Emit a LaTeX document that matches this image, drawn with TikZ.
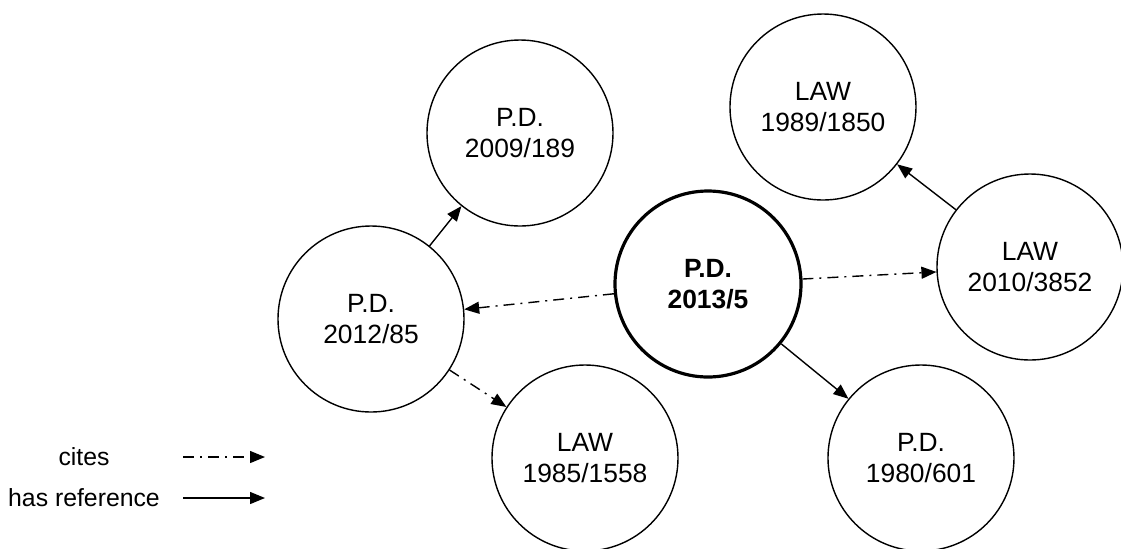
\documentclass[tikz,border=0pt]{standalone}
\usepackage{fontspec}
\setmainfont{Liberation Sans}
\usetikzlibrary{arrows.meta}

\tikzset{
  doc/.style={circle, draw, line width=0.7pt, minimum size=93pt, inner sep=0pt,
    align=center, font=\fontsize{13.2}{15.5}\selectfont},
  maindoc/.style={doc, line width=1.6pt, font=\fontsize{13.2}{15.5}\selectfont\bfseries},
  hasref/.style={line width=0.7pt, -{Triangle[length=7.5pt,width=6pt]}},
  cites/.style={hasref, dash pattern=on 5.5pt off 3pt on 1pt off 3pt},
  legendtext/.style={font=\fontsize{12.4}{14.5}\selectfont, inner sep=0pt}
}

\begin{document}
\begin{tikzpicture}[x=0.5pt, y=-0.5pt]
  \useasboundingbox (0,0) rectangle (1121,548);

  % documents
  \node[maindoc] (pd2013) at (708,284) {P.D.\\2013/5};
  \node[doc] (pd2009) at (520,133) {P.D.\\2009/189};
  \node[doc] (law1989) at (823,107) {LAW\\1989/1850};
  \node[doc] (pd2012) at (371,319) {P.D.\\2012/85};
  \node[doc] (law2010) at (1030,267) {LAW\\2010/3852};
  \node[doc] (law1985) at (585,458) {LAW\\1985/1558};
  \node[doc] (pd1980) at (921,458) {P.D.\\1980/601};

  % relations
  \draw[cites] (pd2013) -- (pd2012);
  \draw[cites] (pd2013) -- (law2010);
  \draw[cites] (pd2012) -- (law1985);
  \draw[hasref] (pd2012) -- (pd2009);
  \draw[hasref] (law2010) -- (law1989);
  \draw[hasref] (pd2013) -- (pd1980);

  % legend
  \node[legendtext] (lcites) at (84,457) {cites};
  \node[legendtext] (lref) at (84,498) {has reference};
  \coordinate (c1) at (183,457);
  \coordinate (c2) at (265,457);
  \coordinate (r1) at (183,498);
  \coordinate (r2) at (265,498);
  \draw[cites] (c1) -- (c2);
  \draw[hasref] (r1) -- (r2);
\end{tikzpicture}
\end{document}
